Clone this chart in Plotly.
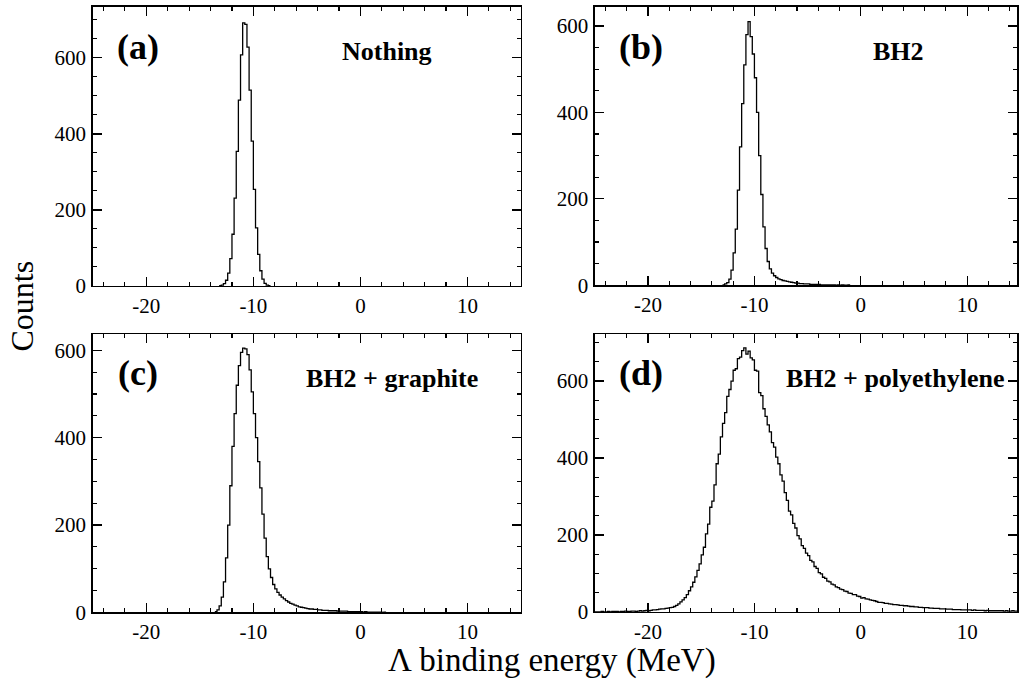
import numpy as np
import plotly.graph_objects as go

# ---------------- data (bin width 0.2 MeV; counts per bin) ----------------
bin_width = 0.2

a_first_edge = -13.2
a_counts = [1, 2, 6, 15, 34, 72, 136, 231, 354, 489, 608, 692, 688, 628, 515, 381,
            254, 153, 83, 40, 18, 7, 2, 1]

b_first_edge = -13.0
b_counts = [1, 3, 6, 14, 35, 75, 130, 220, 320, 420, 510, 580, 610, 575, 535, 480,
            400, 300, 210, 135, 85, 55, 38, 28, 22, 18, 15, 13, 11, 10, 9, 8, 7, 6,
            5, 5, 4, 4, 3, 3, 3, 2, 2, 2, 2, 2, 1, 1, 1, 1, 1, 1, 1, 0, 1, 0, 1, 0, 0, 1]

c_first_edge = -13.6
c_counts = [2, 6, 15, 35, 70, 125, 200, 290, 380, 455, 520, 565, 595, 605, 603, 590,
            555, 505, 455, 400, 345, 285, 225, 170, 128, 100, 80, 64, 54, 46, 40, 35,
            31, 27, 24, 21, 19, 17, 15, 13, 12, 11, 10, 9, 8, 8, 7, 7, 6, 6, 5, 5, 5,
            4, 4, 4, 4, 3, 3, 3, 3, 3, 2, 2, 2, 2, 2, 2, 2, 1, 2, 1, 1, 1, 1, 1, 1, 1, 0, 1]

d_first_edge = -25.0
d_counts = [0, 0, 0, 1, 0, 0, 1, 0, 1, 1,
            1, 0, 1, 1, 2, 1, 1, 2, 2, 1,
            2, 3, 2, 3, 4, 3, 4, 5, 5, 6,
            7, 8, 8, 9, 10, 11, 12, 14, 17, 21,
            26, 31, 37, 45, 55, 65, 77, 91, 108, 125,
            148, 168, 203, 228, 272, 288, 330, 385, 410, 455,
            490, 518, 560, 578, 600, 628, 632, 658, 662, 679,
            686, 670, 678, 660, 655, 628, 626, 570, 562, 528,
            508, 486, 468, 440, 428, 402, 385, 356, 340, 310,
            290, 262, 252, 230, 218, 198, 190, 172, 165, 153,
            146, 134, 130, 118, 113, 102, 99, 90, 87, 80,
            78, 72, 70, 65, 63, 59, 58, 54, 53, 49,
            48, 45, 45, 41, 40, 36, 37, 34, 33, 31,
            30, 29, 27, 25, 25, 24, 22, 22, 21, 20,
            19, 19, 18, 17, 17, 16, 16, 15, 14, 14,
            13, 13, 12, 12, 11, 11, 11, 10, 10, 9,
            9, 9, 8, 8, 8, 7, 7, 7, 6, 6,
            6, 6, 5, 5, 5, 5, 5, 4, 5, 4,
            4, 4, 4, 3, 4, 3, 3, 3, 3, 3,
            3, 3, 2, 3, 2, 2, 3, 2, 2, 2]

panel_tags = ["(a)", "(b)", "(c)", "(d)"]
panel_names = ["Nothing", "BH2", "BH2 + graphite", "BH2 + polyethylene"]
x_tick_vals = [-20, -10, 0, 10]
x_tick_text = ["-20", "-10", "0", "10"]
y_tick_vals = [0, 200, 400, 600]
y_tick_text = ["0", "200", "400", "600"]
x_title = "Λ binding energy (MeV)"
y_title = "Counts"

# ---------------- layout geometry ----------------
W, H = 1019, 692
FONT = "Liberation Serif"

def px_x(p):
    return p / W

def px_y(p):
    return 1 - p / H

panels = [
    dict(edge=a_first_edge, counts=a_counts, xd=(93, 522), yd=(7, 291), xr=[-25, 15], yr=[0, 734],
         tag=(138, 48), name=(388, 52)),
    dict(edge=b_first_edge, counts=b_counts, xd=(596, 1019), yd=(7, 290.3), xr=[-25, 14.68], yr=[0, 644],
         tag=(642, 48), name=(900, 52)),
    dict(edge=c_first_edge, counts=c_counts, xd=(93, 522), yd=(340, 623.3), xr=[-25, 15], yr=[0, 637],
         tag=(138, 380), name=(393, 385)),
    dict(edge=d_first_edge, counts=d_counts, xd=(596, 1019), yd=(340, 622.7), xr=[-25, 14.68], yr=[0, 722],
         tag=(642, 380), name=(897, 385)),
]

tick_font = dict(family=FONT, size=21, color="black")

fig = go.Figure()
annotations = []
for i, p in enumerate(panels):
    n = len(p["counts"])
    edges = p["edge"] + bin_width * np.arange(n + 1)
    yvals = list(p["counts"]) + [p["counts"][-1]]
    sfx = "" if i == 0 else str(i + 1)
    fig.add_trace(go.Scatter(
        x=edges, y=yvals, mode="lines", line=dict(shape="hv", color="black", width=1.3),
        xaxis="x" + sfx, yaxis="y" + sfx, showlegend=False, hoverinfo="skip"))
    common = dict(showline=True, linecolor="black", linewidth=1.5, mirror="ticks",
                  ticks="inside", ticklen=9, tickwidth=1.3, tickcolor="black",
                  showgrid=False, zeroline=False, tickfont=tick_font)
    xa = dict(common)
    xa.update(domain=[px_x(p["xd"][0]), px_x(p["xd"][1])], range=p["xr"],
              anchor="y" + sfx, tickmode="array", tickvals=x_tick_vals, ticktext=x_tick_text,
              minor=dict(tickmode="linear", tick0=0, dtick=2, ticklen=4, ticks="inside",
                         tickwidth=1.1, tickcolor="black"))
    ya = dict(common)
    ya.update(domain=[px_y(p["yd"][1]), px_y(p["yd"][0])], range=p["yr"],
              anchor="x" + sfx, tickmode="array", tickvals=y_tick_vals, ticktext=y_tick_text,
              ticklabelstandoff=1,
              minor=dict(tickmode="linear", tick0=0, dtick=50, ticklen=4, ticks="inside",
                         tickwidth=1.1, tickcolor="black"))
    fig.update_layout({"xaxis" + sfx: xa, "yaxis" + sfx: ya})
    annotations.append(dict(text="<b>%s</b>" % panel_tags[i], x=px_x(p["tag"][0]), y=px_y(p["tag"][1]),
                            xref="paper", yref="paper", xanchor="center", yanchor="middle", showarrow=False,
                            font=dict(family=FONT, size=36, color="black")))
    annotations.append(dict(text="<b>%s</b>" % panel_names[i], x=px_x(p["name"][0]), y=px_y(p["name"][1]),
                            xref="paper", yref="paper", xanchor="center", yanchor="middle", showarrow=False,
                            font=dict(family=FONT, size=26, color="black")))

annotations.append(dict(text=y_title, x=px_x(22), y=px_y(311), xref="paper", yref="paper",
                        xanchor="center", yanchor="middle", textangle=-90, showarrow=False,
                        font=dict(family=FONT, size=32, color="black")))
annotations.append(dict(text=x_title, x=px_x(553), y=px_y(672), xref="paper", yref="paper",
                        xanchor="center", yanchor="middle", showarrow=False,
                        font=dict(family=FONT, size=33, color="black")))

fig.update_layout(width=W, height=H, autosize=False, margin=dict(l=0, r=0, t=0, b=0),
                  font=dict(family=FONT, size=21, color="black"),
                  paper_bgcolor="white", plot_bgcolor="white", annotations=annotations)

post = ("document.documentElement.style.margin='0';"
        "document.documentElement.style.overflow='hidden';"
        "document.body.style.margin='0';document.body.style.overflow='hidden';"
        "var gd=document.getElementById('{plot_id}');"
        "gd.style.position='fixed';gd.style.left='0px';gd.style.top='0px';")

fig.write_html("out.html", config={"displayModeBar": False, "staticPlot": True}, post_script=post)
